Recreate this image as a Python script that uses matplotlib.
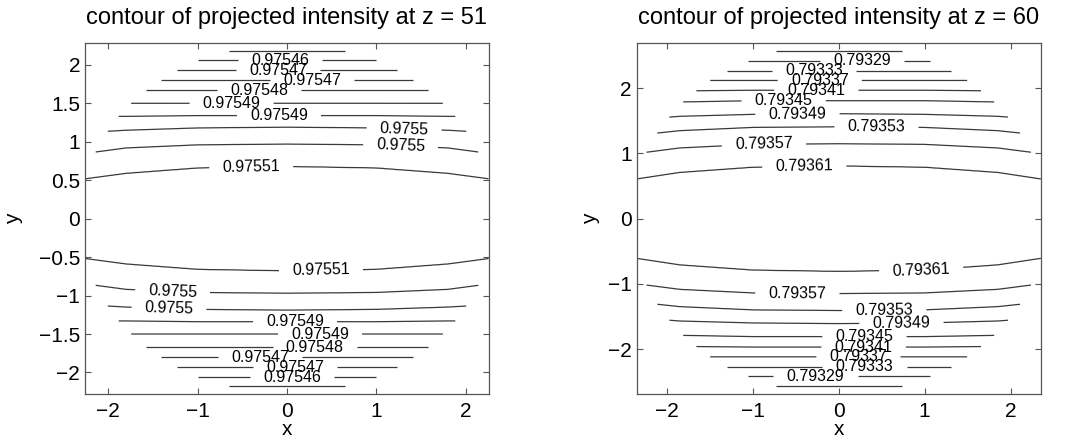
import numpy as np
import matplotlib
matplotlib.use('Agg')
import matplotlib.pyplot as plt

plt.rcParams['font.family'] = ['Liberation Sans', 'DejaVu Sans']

# ---- z = 51 ----
# contour levels, outermost line (largest |y|) first
levels_51 = [0.9754580, 0.9754635, 0.9754690, 0.9754745, 0.9754800,
             0.9754855, 0.9754910, 0.9754965, 0.9755020, 0.9755075]
# |y| of every contour line read at these |x| (plot is mirror symmetric)
x_nodes_51 = [0.0, 1.0, 1.8, 2.25]
y_nodes_51 = [
    [2.18, 2.18, 2.18, 2.18],
    [2.06, 2.06, 2.06, 2.06],
    [1.93, 1.93, 1.93, 1.93],
    [1.80, 1.80, 1.80, 1.80],
    [1.67, 1.67, 1.67, 1.67],
    [1.50, 1.50, 1.50, 1.50],
    [1.34, 1.34, 1.33, 1.33],
    [1.19, 1.18, 1.15, 1.12],
    [0.97, 0.96, 0.92, 0.85],
    [0.68, 0.66, 0.59, 0.52],
]
# x of the inline labels on levels 2..10, upper and lower half
label_x_top_51 = [-0.08, -0.10, 0.28, -0.31, -0.62, -0.09, 1.31, 1.27, -0.40]
label_x_bot_51 = [0.06, 0.09, -0.30, 0.31, 0.37, 0.09, -1.32, -1.28, 0.38]

# ---- z = 60 ----
levels_60 = [0.79325, 0.79329, 0.79333, 0.79337, 0.79341,
             0.79345, 0.79349, 0.79353, 0.79357, 0.79361]
x_nodes_60 = [0.0, 1.0, 1.85, 2.35]
y_nodes_60 = [
    [2.57, 2.57, 2.57, 2.57],
    [2.42, 2.42, 2.42, 2.42],
    [2.27, 2.27, 2.27, 2.27],
    [2.12, 2.12, 2.12, 2.12],
    [1.97, 1.97, 1.96, 1.96],
    [1.81, 1.81, 1.79, 1.79],
    [1.61, 1.60, 1.57, 1.52],
    [1.41, 1.40, 1.35, 1.28],
    [1.15, 1.14, 1.085, 1.00],
    [0.81, 0.79, 0.71, 0.61],
]
label_x_top_60 = [0.27, -0.29, -0.22, -0.26, -0.64, -0.48, 0.44, -0.87, -0.40]
label_x_bot_60 = [-0.27, 0.30, 0.23, 0.29, 0.30, 0.73, 0.53, -0.48, 0.96]


def build_field(x_nodes, y_nodes, levels, a, b):
    xg = np.linspace(-a, a, 500)
    yg = np.linspace(-b, b, 500)
    X, Y = np.meshgrid(xg, yg)
    Z = np.empty(X.shape)
    step = levels[1] - levels[0]
    for j, x in enumerate(xg):
        yk = [np.interp(abs(x), x_nodes, row) for row in y_nodes]
        yp = [0.0] + yk[::-1] + [b + 1.0]
        fp = [levels[-1] + step] + levels[::-1] + [levels[0] - 2 * step]
        Z[:, j] = np.interp(np.abs(yg), yp, fp)
    Z = np.ma.masked_where((X / a) ** 2 + (Y / b) ** 2 > 1.0, Z)
    return X, Y, Z


def draw_panel(ax, x_nodes, y_nodes, levels, lab_top, lab_bot, a, b, xlim, ylim, z):
    X, Y, Z = build_field(x_nodes, y_nodes, levels, a, b)
    cs = ax.contour(X, Y, Z, levels=levels, colors='#3a3a3a', linewidths=0.9)
    pts = []
    for k, (xt, xb) in enumerate(zip(lab_top, lab_bot)):
        row = y_nodes[k + 1]
        pts.append((xt, np.interp(abs(xt), x_nodes, row)))
        pts.append((xb, -np.interp(abs(xb), x_nodes, row)))
    ax.clabel(cs, fmt='%.5g', fontsize=11.5, inline=True, inline_spacing=12,
              manual=pts, colors='k')
    ax.set_xlim(-xlim, xlim)
    ax.set_ylim(-ylim, ylim)
    ax.set_xticks([-2, -1, 0, 1, 2])
    ax.tick_params(direction='in', top=True, right=True, length=4, width=0.8,
                   color='#555555', labelsize=15)
    ax.tick_params(axis='x', pad=6)
    for s in ax.spines.values():
        s.set_color('#555555')
        s.set_linewidth(0.9)
    ax.set_title('contour of projected intensity at z = %d' % z, fontsize=17, pad=14)
    ax.set_xlabel('x', fontsize=15, labelpad=-1)
    ax.set_ylabel('y', fontsize=15)


fig = plt.figure(figsize=(10.66, 4.4), dpi=100)
ax1 = fig.add_axes([85 / 1066, 46 / 440, 404 / 1066, 350.7 / 440])
ax2 = fig.add_axes([636.7 / 1066, 46 / 440, 404 / 1066, 350.7 / 440])

draw_panel(ax1, x_nodes_51, y_nodes_51, levels_51, label_x_top_51, label_x_bot_51,
           2.32, 2.28, 2.26, 2.28, 51)
ax1.set_yticks([-2, -1.5, -1, -0.5, 0, 0.5, 1, 1.5, 2])
ax1.set_yticklabels(['\u22122', '\u22121.5', '\u22121', '\u22120.5', '0', '0.5', '1', '1.5', '2'])
ax1.yaxis.set_label_coords(-0.153, 0.5)

draw_panel(ax2, x_nodes_60, y_nodes_60, levels_60, label_x_top_60, label_x_bot_60,
           2.42, 2.70, 2.35, 2.69, 60)
ax2.set_yticks([-2, -1, 0, 1, 2])
ax2.yaxis.set_label_coords(-0.091, 0.5)

fig.savefig('out.png', dpi=100)
